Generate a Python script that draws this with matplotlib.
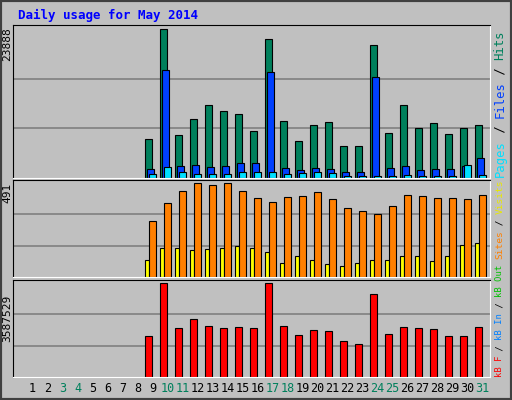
import matplotlib
matplotlib.use('Agg')
from matplotlib import pyplot as plt

# Webalizer style daily usage, days with data: 9..31
days = list(range(9, 32))
hits = [6215, 23888, 6863, 9457, 11727, 10754, 10268, 7512, 22428, 9133, 5891, 8485,
        8971, 5080, 5080, 21455, 7188, 11727, 7998, 8809, 7026, 7998, 8485]
files = [1513, 17401, 2000, 2162, 1837, 2000, 2486, 2486, 17077, 1675, 1351, 1675,
         1513, 1027, 1027, 16267, 1675, 2000, 1351, 1513, 1513, 2000, 3296]
pages = [703, 1837, 1027, 703, 703, 703, 1027, 1027, 1027, 703, 865, 1027,
         865, 378, 378, 378, 378, 540, 378, 378, 378, 2162, 540]
sites = [294, 384, 448, 491, 480, 491, 448, 411, 390, 416, 422, 443,
         406, 358, 342, 326, 368, 427, 422, 411, 411, 406, 427]
visits = [91, 149, 149, 139, 144, 149, 160, 149, 128, 75, 107, 91,
          69, 59, 75, 91, 91, 112, 112, 85, 112, 165, 176]
kbytes = [1545000, 3587529, 1859000, 2213000, 1938000, 1859000, 1898000, 1859000, 3587529,
          1938000, 1584000, 1781000, 1741000, 1388000, 1270000, 3155000, 1624000, 1898000,
          1859000, 1820000, 1545000, 1545000, 1898000]
weekends = [3, 4, 10, 11, 17, 18, 24, 25, 31]

BG = '#c0c0c0'
mono = 'DejaVu Sans Mono'
fig = plt.figure(figsize=(5.12, 4), dpi=100, facecolor=BG)
W, H = 512, 400


def panel(y0, y1):
    ax = fig.add_axes([13 / W, (H - y1) / H, 477 / W, (y1 - y0) / H], facecolor=BG)
    ax.set_xlim(-0.31, 31.49)
    ax.set_xticks([])
    ax.set_yticks([])
    for s in ['top', 'left']:
        ax.spines[s].set_color('black')
    for s in ['bottom', 'right']:
        ax.spines[s].set_color('white')
    return ax


def grid(ax, top):
    ax.set_ylim(0, top * 1.03)
    for f in (1 / 3, 2 / 3):
        ax.axhline(top * f, color='#808080', lw=1.2, zorder=0)


kw = dict(align='edge', edgecolor='black', linewidth=0.8, zorder=2)

ax1 = panel(25, 178)
grid(ax1, 23888)
ax1.bar([d - 0.49 for d in days], hits, 0.47, color='#00805c', **kw)
ax1.bar([d - 0.36 for d in days], files, 0.47, color='#0040ff', **kw)
ax1.bar([d - 0.23 for d in days], pages, 0.47, color='#00e0ff', **kw)

ax2 = panel(180, 277)
grid(ax2, 491)
ax2.bar([d - 0.49 for d in days], visits, 0.27, color='#ffff00', **kw)
ax2.bar([d - 0.23 for d in days], sites, 0.47, color='#ff8000', **kw)

ax3 = panel(280, 377)
grid(ax3, 3587529)
ax3.bar([d - 0.49 for d in days], kbytes, 0.47, color='#ff0000', **kw)

# day labels
for d in range(1, 32):
    x = (32.7 + (d - 1) * 15) / W
    fig.text(x, 1 - 389 / H, str(d), ha='center', va='center', family=mono, fontsize=8.5,
             color='#00805c' if d in weekends else 'black')

# title
fig.text(18 / W, 1 - 15 / H, 'Daily usage for May 2014', family=mono, fontsize=9,
         fontweight='bold', color='#0000ff', va='center')

# left max labels
for txt, yc in [('23888', 44), ('491', 193), ('3587529', 318)]:
    fig.text(7 / W, 1 - yc / H, txt, rotation=90, ha='center', va='center',
             family=mono, fontsize=8)


# right legend labels, built bottom to top
def legend(parts, ybottom, size):
    step = 0.6 * size * 100 / 72
    pos = ybottom
    for txt, col in parts:
        fig.text(500 / W, 1 - pos / H, txt, rotation=90, ha='center', va='bottom',
                 family=mono, fontsize=size, color=col)
        pos -= step * len(txt)


legend([('Pages', '#00e0ff'), (' / ', '#000000'), ('Files', '#0040ff'),
        (' / ', '#000000'), ('Hits', '#00805c')], 177, 8.8)
legend([('Sites', '#ff8000'), (' / ', '#000000'), ('Visits', '#e8e800')], 259, 6.8)
legend([('kB F', '#ff0000'), (' / ', '#000000'), ('kB In', '#0080ff'),
        (' / ', '#000000'), ('kB Out', '#00c000')], 377, 6.4)

# outer border
fig.patches.append(plt.Rectangle((0, 0), 1, 1, transform=fig.transFigure, fill=False,
                                 edgecolor='#404040', linewidth=3))

fig.savefig('out.png', dpi=100, facecolor=BG)
